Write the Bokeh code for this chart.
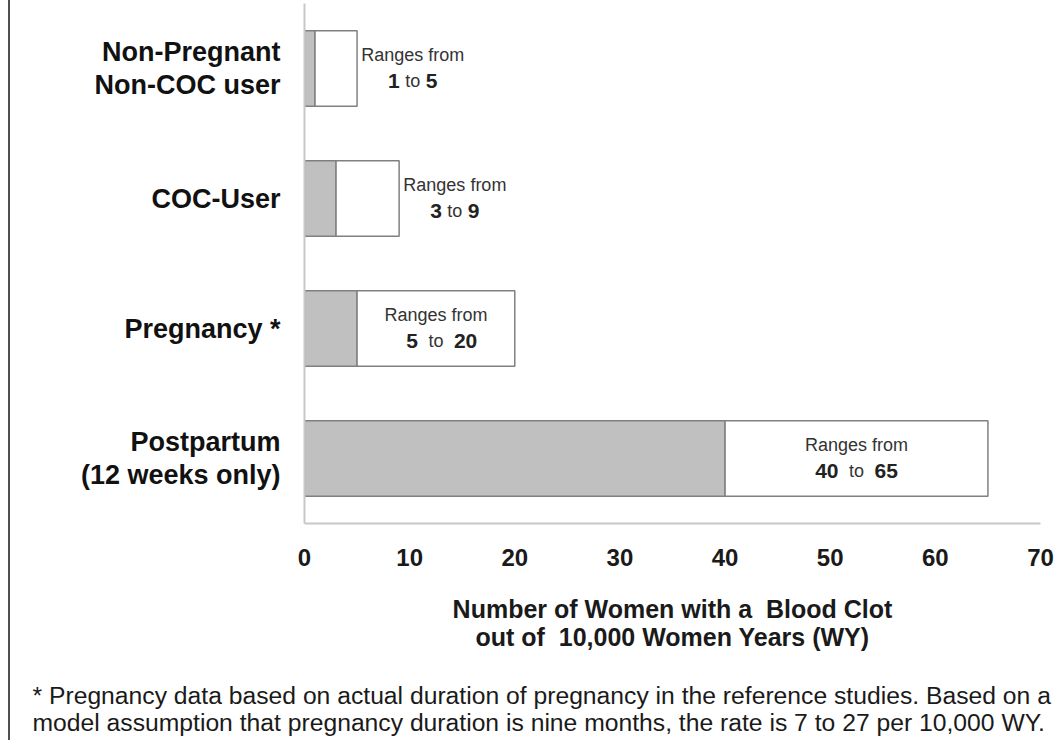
from bokeh.plotting import figure
from bokeh.models import Range1d, FactorRange, FixedTicker, Title, ColumnDataSource
from bokeh.core.properties import value
from bokeh.embed import file_html
from bokeh.resources import INLINE

# ---- data ----
categories = ["Non-Pregnant\nNon-COC user", "COC-User", "Pregnancy *", "Postpartum\n(12 weeks only)"]
low = [1, 3, 5, 40]
high = [5, 9, 20, 65]
label_inside = [False, False, True, True]
x_ticks = [0, 10, 20, 30, 40, 50, 60, 70]
x_title = "Number of Women with a\u00a0 Blood Clot\nout of\u00a0 10,000 Women Years (WY)"
range_caption = "Ranges from"
footnote_lines = [
    "* Pregnancy data based on actual duration of pregnancy in the reference studies. Based on a",
    "model assumption that pregnancy duration is nine months, the rate is 7 to 27 per 10,000 WY.",
]

FONT = "Liberation Sans"
W, H = 1046, 740

label_x = [(l + h) / 2 if ins else h + 5.3 for l, h, ins in zip(low, high, label_inside)]
gap = [18 if ins else 13 for ins in label_inside]
src = ColumnDataSource(dict(
    y=categories, low=low, high=high, lx=label_x,
    lo_txt=[str(v) for v in low], hi_txt=[str(v) for v in high],
    cap=[range_caption] * len(categories), to=["to"] * len(categories),
    gl=[-g for g in gap], gr=gap,
))

p = figure(
    width=W, height=H,
    x_range=Range1d(0, 70),
    y_range=FactorRange(factors=list(reversed(categories))),
    output_backend="svg", toolbar_location=None,
    min_border_left=294, min_border_right=16, min_border_top=3, min_border_bottom=H - 523,
)
p.styles = {"border-left": "2px solid #505050", "margin-left": "8px"}
p.outline_line_color = None
p.xgrid.grid_line_color = None
p.ygrid.grid_line_color = None
p.background_fill_color = "white"
p.border_fill_color = "white"

# bars
p.hbar(y="y", left=0, right="low", height=0.58, source=src,
       fill_color="#c0c0c0", line_color="#808080", line_width=1.5)
p.hbar(y="y", left="low", right="high", height=0.58, source=src,
       fill_color="white", line_color="#808080", line_width=1.5)

# range texts
p.text(x="lx", y="y", text="cap", source=src, y_offset=-14,
       text_align="center", text_baseline="middle",
       text_font=value(FONT), text_font_size="18px", text_color="#333333")
p.text(x="lx", y="y", text="to", source=src, y_offset=12,
       text_align="center", text_baseline="middle",
       text_font=value(FONT), text_font_size="18px", text_color="#333333")
p.text(x="lx", y="y", text="lo_txt", source=src, y_offset=12, x_offset="gl",
       text_align="right", text_baseline="middle",
       text_font=value(FONT), text_font_style="bold", text_font_size="21px", text_color="#222222")
p.text(x="lx", y="y", text="hi_txt", source=src, y_offset=12, x_offset="gr",
       text_align="left", text_baseline="middle",
       text_font=value(FONT), text_font_style="bold", text_font_size="21px", text_color="#222222")

# axes
p.xaxis.ticker = FixedTicker(ticks=x_ticks)
p.xaxis.axis_label = x_title
for ax in (p.xaxis, p.yaxis):
    ax.axis_line_color = "#c8c8c8"
    ax.axis_line_width = 2
    ax.major_tick_line_color = None
    ax.minor_tick_line_color = None
    ax.major_tick_out = 0
    ax.major_tick_in = 0
    ax.major_label_text_font = FONT
    ax.major_label_text_font_style = "bold"
ax = p.xaxis
ax.major_label_text_font_size = "24px"
ax.major_label_text_color = "#1a1a1a"
ax.major_label_standoff = 25
ax.axis_label_text_font = FONT
ax.axis_label_text_font_style = "bold"
ax.axis_label_text_font_size = "25px"
ax.axis_label_text_color = "#1a1a1a"
ax.axis_label_standoff = 26
ax.axis_label_text_line_height = 1.0
ay = p.yaxis
ay.major_label_text_font_size = "27px"
ay.major_label_text_color = "#111111"
ay.major_label_standoff = 24
ay.major_label_text_line_height = 1.09
ay.major_label_orientation = "horizontal"

# spacer between the axis title and the footnote
p.add_layout(Title(text=" ", standoff=21, text_font_size="1px"), "below")
# footnote below the axis
p.add_layout(Title(text="\n".join(footnote_lines), align="left", offset=-272,
                   standoff=4, text_line_height=1.02,
                   text_font=FONT, text_font_style="normal", text_font_size="24.7px",
                   text_color="#1a1a1a"), "below")

open("out.html", "w").write(file_html(p, INLINE))
